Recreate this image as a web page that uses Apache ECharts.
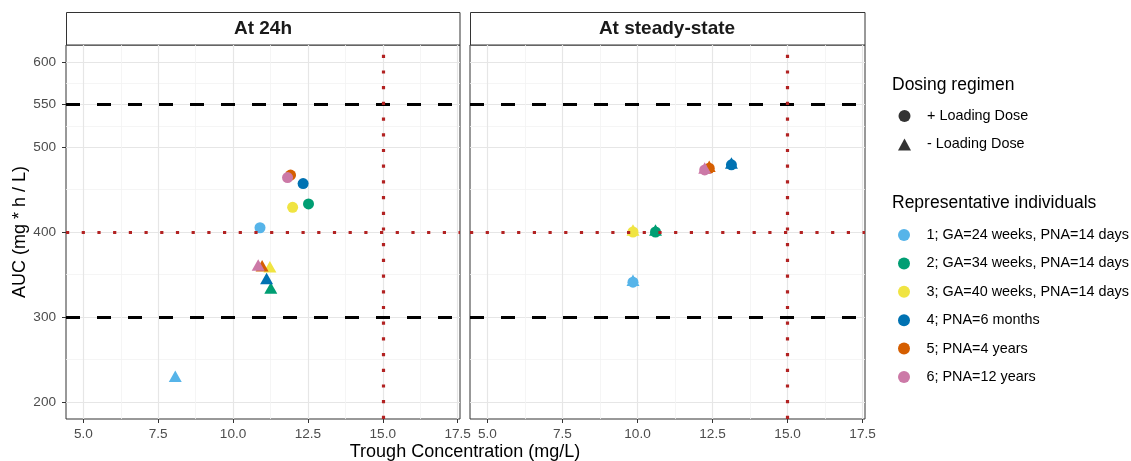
<!DOCTYPE html>
<html>
<head>
<meta charset="utf-8">
<script src="https://cdn.jsdelivr.net/npm/echarts@6/dist/echarts.min.js"></script>
<style>
html, body { margin: 0; padding: 0; background: #fff; }
#main { width: 1131px; height: 461px; }
</style>
</head>
<body>
<div id="main"></div>
<script>
const panels = ['At 24h', 'At steady-state'];
const regimens = ['+ Loading Dose', '- Loading Dose'];
const individuals = [
    '1; GA=24 weeks, PNA=14 days',
    '2; GA=34 weeks, PNA=14 days',
    '3; GA=40 weeks, PNA=14 days',
    '4; PNA=6 months',
    '5; PNA=4 years',
    '6; PNA=12 years'
];
const individualColors = ['#56B4E9', '#009E73', '#F0E442', '#0072B2', '#D55E00', '#CC79A7'];

// At 24h
const h24LoadTrough = [10.90, 12.52, 11.99, 12.34, 11.92, 11.82];
const h24LoadAuc = [405, 433, 429, 457, 467, 464];
const h24NoLoadTrough = [8.07, 11.26, 11.23, 11.12, 10.97, 10.84];
const h24NoLoadAuc = [228, 332, 357, 343, 358, 359];
// At steady-state
const ssLoadTrough = [9.85, 10.60, 9.85, 13.13, 12.39, 12.24];
const ssLoadAuc = [341, 400, 400, 479, 475, 473];
const ssNoLoadTrough = [9.85, 10.60, 9.85, 13.13, 12.39, 12.24];
const ssNoLoadAuc = [341, 400, 400, 479, 475, 473];

// reference lines
const aucLimits = [300, 550];
const aucTarget = [400];
const troughTarget = [15];

// ticks
const xTicks = [5, 7.5, 10, 12.5, 15, 17.5];
const xMinorTicks = [6.25, 8.75, 11.25, 13.75, 16.25];
const yTicks = [200, 300, 400, 500, 550, 600];
const yMinorTicks = [250, 350, 450, 525, 575];

const font = "'Liberation Sans', Arial, sans-serif";
const gridLeft = [66, 470];
const gridWidth = [394, 395];

let chart = echarts.init(document.getElementById('main'));

let panelPoints = [
    [[h24LoadTrough, h24LoadAuc], [h24NoLoadTrough, h24NoLoadAuc]],
    [[ssLoadTrough, ssLoadAuc], [ssNoLoadTrough, ssNoLoadAuc]]
];

let xAxes = [], yAxes = [], series = [];

panels.forEach((p, pi) => {
    // major axis (labels + major grid)
    xAxes.push({
        gridIndex: pi, type: 'value', min: 4.42, max: 17.58,
        axisLine: {show: false},
        axisTick: {show: true, length: 4, lineStyle: {color: '#333'}, customValues: xTicks},
        axisLabel: {customValues: xTicks, formatter: v => v.toFixed(1), color: '#4d4d4d',
            fontSize: 13.6, fontFamily: font, margin: 8},
        splitLine: {show: true, lineStyle: {color: '#e6e6e6', width: 1.2}}
    });
    // minor grid only
    xAxes.push({
        gridIndex: pi, type: 'value', min: 4.42, max: 17.58,
        axisLine: {show: false},
        axisTick: {show: false, customValues: xMinorTicks},
        axisLabel: {show: false, customValues: xMinorTicks},
        splitLine: {show: true, lineStyle: {color: '#f2f2f2', width: 0.8}}
    });
    yAxes.push({
        gridIndex: pi, type: 'value', min: 180, max: 620,
        axisLine: {show: false},
        axisTick: {show: pi === 0, length: 4, lineStyle: {color: '#333'}, customValues: yTicks},
        axisLabel: {show: pi === 0, customValues: yTicks, color: '#4d4d4d',
            fontSize: 13.6, fontFamily: font, margin: 10},
        splitLine: {show: true, lineStyle: {color: '#e6e6e6', width: 1.2}},
        name: pi === 0 ? 'AUC (mg * h / L)' : '',
        nameLocation: 'middle', nameRotate: 90, nameGap: 36,
        nameTextStyle: {fontSize: 18, fontFamily: font, color: '#000'}
    });
    yAxes.push({
        gridIndex: pi, type: 'value', min: 180, max: 620,
        axisLine: {show: false},
        axisTick: {show: false, customValues: yMinorTicks},
        axisLabel: {show: false, customValues: yMinorTicks},
        splitLine: {show: true, lineStyle: {color: '#f2f2f2', width: 0.8}}
    });

    // circles first, then triangles, individual 6 on top
    regimens.forEach((r, ri) => {
        let [xs, ys] = panelPoints[pi][ri];
        individuals.forEach((name, i) => {
            series.push({
                type: 'scatter', name: name,
                xAxisIndex: pi * 2, yAxisIndex: pi * 2,
                symbol: ri === 0 ? 'circle' : 'triangle',
                symbolSize: ri === 0 ? 11 : [13, 11.5],
                symbolOffset: ri === 0 ? [0, 0] : [0, -1.9],
                itemStyle: {color: individualColors[i], opacity: 1},
                z: 3,
                data: [[xs[i], ys[i]]]
            });
        });
    });

    // reference lines
    series.push({
        type: 'scatter', xAxisIndex: pi * 2, yAxisIndex: pi * 2, data: [], silent: true,
        markLine: {
            silent: true, symbol: ['none', 'none'], label: {show: false}, animation: false,
            data: aucLimits.map(v => ({yAxis: v, lineStyle: {color: '#000', width: 3, type: [14, 17]}}))
                .concat(aucTarget.map(v => ({yAxis: v, lineStyle: {color: '#b22222', width: 3.2, type: [3.2, 12.5]}})))
                .concat(troughTarget.map(v => ({xAxis: v, lineStyle: {color: '#b22222', width: 3.2, type: [3.2, 12.5]}})))
        }
    });
});

// dummy series for shape legend
regimens.forEach(r => {
    series.push({type: 'scatter', name: r, xAxisIndex: 0, yAxisIndex: 0, data: [], itemStyle: {color: '#000'}});
});

let legendText = {fontSize: 14.4, fontFamily: font, color: '#000', padding: [0, 0, 0, 11]};

let option = {
    animation: false,
    grid: panels.map((p, pi) => ({
        left: gridLeft[pi], top: 45, width: gridWidth[pi], height: 374,
        show: true, borderColor: '#333', borderWidth: 1, backgroundColor: '#fff'
    })),
    xAxis: xAxes,
    yAxis: yAxes,
    legend: [
        {
            data: [{name: regimens[0], icon: 'circle'}, {name: regimens[1], icon: 'triangle'}],
            orient: 'vertical', left: 898, top: 109, padding: 0,
            itemWidth: 13, itemHeight: 12, itemGap: 14.5,
            itemStyle: {color: '#000'},
            textStyle: legendText, selectedMode: false
        },
        {
            data: individuals.map(n => ({name: n, icon: 'circle'})),
            orient: 'vertical', left: 898, top: 228, padding: 0,
            itemWidth: 13, itemHeight: 12, itemGap: 14.4,
            textStyle: legendText, selectedMode: false
        }
    ],
    graphic: [
        // strips
        {type: 'rect', shape: {x: 66.5, y: 12.5, width: 393.5, height: 32.5},
            style: {fill: '#fff', stroke: '#333', lineWidth: 1}},
        {type: 'rect', shape: {x: 470.5, y: 12.5, width: 394.5, height: 32.5},
            style: {fill: '#fff', stroke: '#333', lineWidth: 1}},
        {type: 'text', x: 263, y: 29, style: {text: panels[0], font: 'bold 19px ' + font,
            fill: '#1a1a1a', textAlign: 'center', textVerticalAlign: 'middle'}},
        {type: 'text', x: 667, y: 29, style: {text: panels[1], font: 'bold 19px ' + font,
            fill: '#1a1a1a', textAlign: 'center', textVerticalAlign: 'middle'}},
        // x title
        {type: 'text', x: 465, y: 452, style: {text: 'Trough Concentration (mg/L)', font: '18px ' + font,
            fill: '#000', textAlign: 'center', textVerticalAlign: 'middle'}},
        // legend titles
        {type: 'text', x: 892, y: 85, style: {text: 'Dosing regimen', font: '17.5px ' + font,
            fill: '#000', textAlign: 'left', textVerticalAlign: 'middle'}},
        {type: 'text', x: 892, y: 203, style: {text: 'Representative individuals', font: '17.5px ' + font,
            fill: '#000', textAlign: 'left', textVerticalAlign: 'middle'}}
    ],
    series: series
};

chart.setOption(option);
</script>
</body>
</html>
